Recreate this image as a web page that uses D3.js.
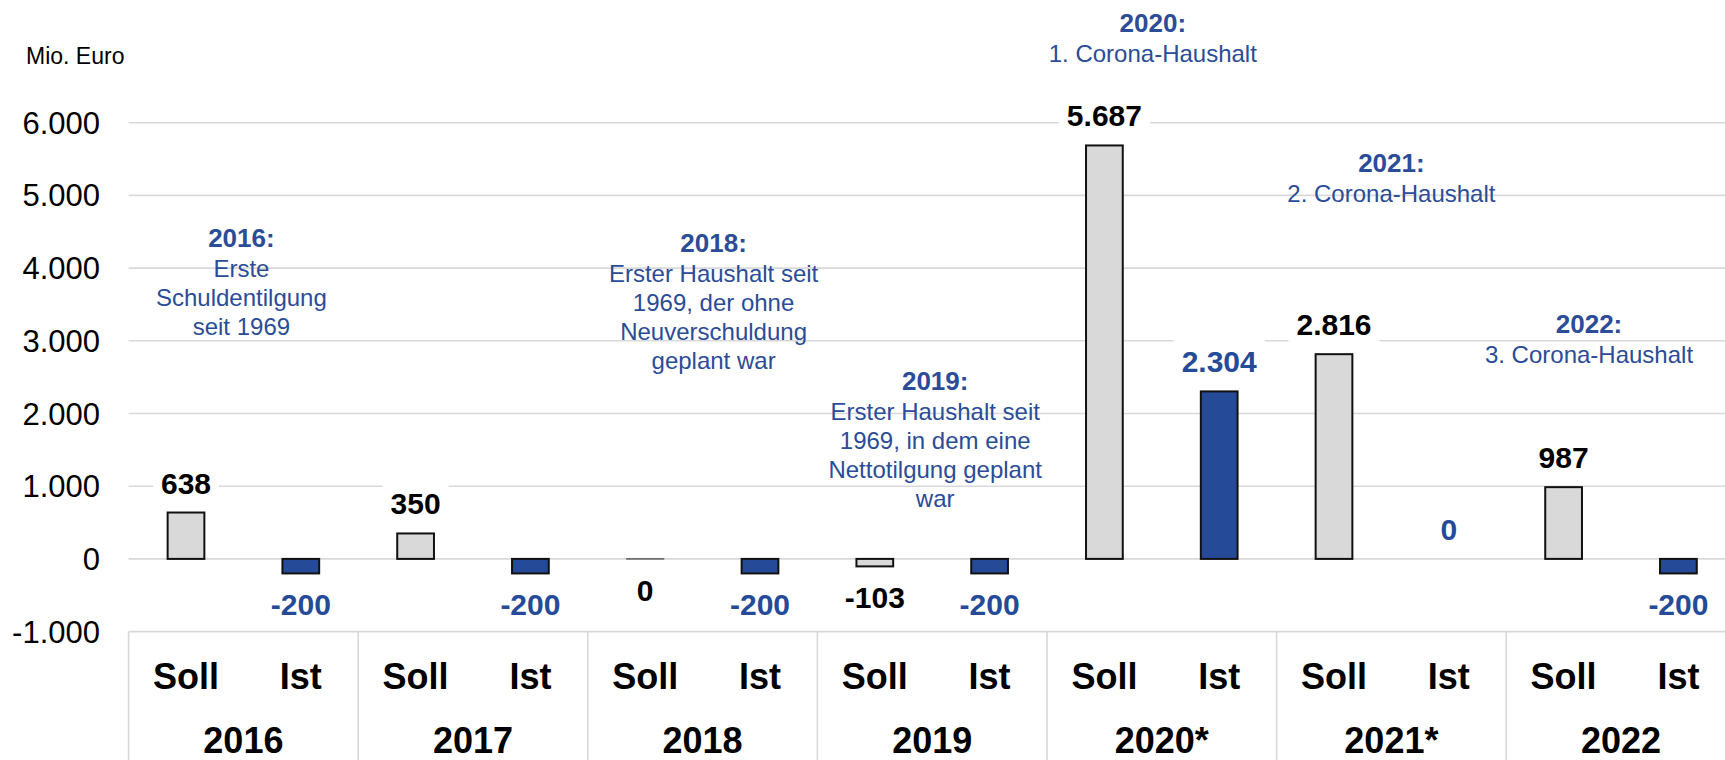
<!DOCTYPE html>
<html>
<head>
<meta charset="utf-8">
<script src="https://cdn.jsdelivr.net/npm/d3@7"></script>
<style>
  html, body { margin: 0; padding: 0; background: #fff; overflow: hidden; }
  svg { display: block; font-family: "Liberation Sans", Arial, sans-serif; }
</style>
</head>
<body>
<svg id="chart" width="1725" height="760"></svg>
<script>
// ---- data ----
const years = ["2016", "2017", "2018", "2019", "2020*", "2021*", "2022"];
const sollValues = [638, 350, 0, -103, 5687, 2816, 987];
const istValues = [-200, -200, -200, -200, 2304, 0, -200];
const sollLabels = ["638", "350", "0", "-103", "5.687", "2.816", "987"];
const istLabels = ["-200", "-200", "-200", "-200", "2.304", "0", "-200"];
const tickValues = [-1000, 0, 1000, 2000, 3000, 4000, 5000, 6000];
const tickLabels = ["-1.000", "0", "1.000", "2.000", "3.000", "4.000", "5.000", "6.000"];
const subLabels = ["Soll", "Ist"];
const unitLabel = "Mio. Euro";
// annotations
const noteYears = [0, 2, 3, 4, 5, 6];
const noteTitles = ["2016:", "2018:", "2019:", "2020:", "2021:", "2022:"];
const noteLines = [
  ["Erste", "Schuldentilgung", "seit 1969"],
  ["Erster Haushalt seit", "1969, der ohne", "Neuverschuldung", "geplant war"],
  ["Erster Haushalt seit", "1969, in dem eine", "Nettotilgung geplant", "war"],
  ["1. Corona-Haushalt"],
  ["2. Corona-Haushalt"],
  ["3. Corona-Haushalt"]
];
// vertical anchor of each note title (value units on y axis) and horizontal shift
const noteAnchorValue = [4287, 4226, 2330, 7251, 5326, 3111];
const noteShift = [-2, 11, 3, -9, 0, -32];

// ---- layout ----
const svg = d3.select("#chart");
const left = 128.6, right = 1735.8;
const yTop = 122.7, yBottom = 631.6;
const blue = "#254a97";
const textBlue = "#2b4c97";
const grid = "#d9d9d9";

const y = d3.scaleLinear().domain([-1000, 6000]).range([yBottom, yTop]);
const xGroup = d3.scaleBand().domain(years).range([left, right]).padding(0);
const slots = [];
years.forEach(yr => subLabels.forEach(s => slots.push(yr + "|" + s)));
const xBar = d3.scaleBand().domain(slots).range([left, right]).paddingInner(0.68).paddingOuter(0.34);

// gridlines
svg.append("g").selectAll("line").data(tickValues).join("line")
  .attr("x1", left).attr("x2", 1725)
  .attr("y1", d => y(d)).attr("y2", d => y(d))
  .attr("stroke", grid).attr("stroke-width", 1.6);

// category table verticals
const bounds = years.map(yr => xGroup(yr));
svg.append("g").selectAll("line").data(bounds).join("line")
  .attr("x1", d => d).attr("x2", d => d)
  .attr("y1", y(-1000)).attr("y2", 760)
  .attr("stroke", grid).attr("stroke-width", 1.6);

// y tick labels
svg.append("g").selectAll("text").data(tickValues).join("text")
  .attr("x", 100).attr("y", d => y(d) + 11)
  .attr("text-anchor", "end")
  .attr("font-size", 31).attr("fill", "#000")
  .text((d, i) => tickLabels[i]);

svg.append("text").attr("x", 26).attr("y", 64)
  .attr("font-size", 23).attr("fill", "#000").text(unitLabel);

// bars
const barsData = [];
years.forEach((yr, i) => {
  barsData.push({ key: yr + "|Soll", v: sollValues[i], label: sollLabels[i], type: "Soll" });
  barsData.push({ key: yr + "|Ist", v: istValues[i], label: istLabels[i], type: "Ist" });
});

svg.append("g").selectAll("rect").data(barsData.filter(d => !(d.type === "Ist" && d.v === 0))).join("rect")
  .attr("x", d => xBar(d.key))
  .attr("width", xBar.bandwidth())
  .attr("y", d => y(Math.max(0, d.v)))
  .attr("height", d => Math.max(0.01, Math.abs(y(d.v) - y(0))))
  .attr("fill", d => d.type === "Soll" ? "#d9d9d9" : blue)
  .attr("stroke", d => d.v === 0 ? "#555" : "#111")
  .attr("stroke-width", d => d.v === 0 ? 1.4 : 2);

// value labels with white background
const labelG = svg.append("g");
barsData.forEach(d => {
  const above = d.type === "Soll" ? d.v > 0 : d.v >= 0;
  const cx = xBar(d.key) + xBar.bandwidth() / 2;
  const by = above ? y(Math.max(0, d.v)) - 19 : y(Math.min(0, d.v)) + 42;
  const g = labelG.append("g");
  const t = g.append("text")
    .attr("x", cx).attr("y", by)
    .attr("text-anchor", "middle")
    .attr("font-size", 30).attr("font-weight", "bold")
    .attr("fill", d.type === "Soll" ? "#000" : blue)
    .text(d.label);
  const w = t.node().getComputedTextLength();
  g.insert("rect", "text")
    .attr("x", cx - w / 2 - 8).attr("width", w + 16)
    .attr("y", by - 33).attr("height", 42)
    .attr("fill", "#fff");
});

// Soll / Ist category labels
svg.append("g").selectAll("text").data(slots).join("text")
  .attr("x", d => xBar(d) + xBar.bandwidth() / 2)
  .attr("y", 689)
  .attr("text-anchor", "middle")
  .attr("font-size", 36).attr("font-weight", "bold").attr("fill", "#000")
  .text(d => d.split("|")[1]);

// year labels
svg.append("g").selectAll("text").data(years).join("text")
  .attr("x", d => xGroup(d) + xGroup.bandwidth() / 2)
  .attr("y", 753)
  .attr("text-anchor", "middle")
  .attr("font-size", 36).attr("font-weight", "bold").attr("fill", "#000")
  .text(d => d);

// annotations
const noteG = svg.append("g");
noteYears.forEach((gi, k) => {
  const cx = xGroup(years[gi]) + xGroup.bandwidth() / 2 + noteShift[k];
  const baseY = y(noteAnchorValue[k]);
  const t = noteG.append("text")
    .attr("x", cx).attr("y", baseY)
    .attr("text-anchor", "middle").attr("fill", textBlue);
  t.append("tspan").attr("x", cx).attr("font-size", 26).attr("font-weight", "bold")
    .text(noteTitles[k]);
  noteLines[k].forEach((ln, j) => {
    t.append("tspan").attr("x", cx).attr("dy", j === 0 ? 30 : 29)
      .attr("font-size", 24).text(ln);
  });
});
</script>
</body>
</html>
